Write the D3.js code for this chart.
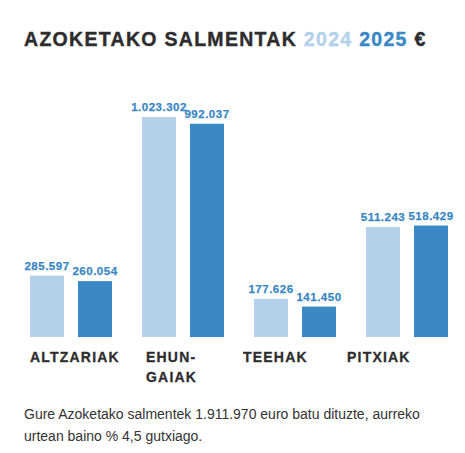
<!DOCTYPE html>
<html>
<head>
    <script src="https://d3js.org/d3.v7.min.js"></script>
</head>

<style>
body {
    margin: 0;
    background: #ffffff;
    font-family: "Liberation Sans", Arial, sans-serif;
}
</style>

<body>
<div id="chart"></div>

<script>
    // Data
    var categories = [["ALTZARIAK"], ["EHUN-", "GAIAK"], ["TEEHAK"], ["PITXIAK"]];
    var years = ["2024", "2025"];
    var sales2024 = [285597, 1023302, 177626, 511243];
    var sales2025 = [260054, 992037, 141450, 518429];
    var footer = ["Gure Azoketako salmentek 1.911.970 euro batu dituzte, aurreko",
                  "urtean baino % 4,5 gutxiago."];

    var colors = {"2024": "#b3d2e9", "2025": "#3a89c5"};
    var width = 465, height = 453;
    var baseline = 337;
    // the category names sit in their own columns, not exactly under the bars
    var labelX = [30, 146, 243, 347];

    // Basque number format: dots as thousand separators
    var eu = d3.formatLocale({decimal: ",", thousands: ".", grouping: [3], currency: ["", " €"]});
    var fmt = eu.format(",d");

    var rows = categories.map(function(c, i) {
        return {key: c.join(""), lines: c, values: [
            {year: "2024", value: sales2024[i]},
            {year: "2025", value: sales2025[i]}
        ]};
    });

    var svg = d3.select("#chart").append("svg")
        .attr("width", width)
        .attr("height", height);

    // Title with coloured years (heavy, slightly spaced like the original)
    var title = svg.append("text")
        .attr("x", 24)
        .attr("y", 46)
        .attr("font-size", "19.5px")
        .attr("font-weight", "bold")
        .attr("letter-spacing", "1.3px")
        .attr("stroke-width", 0.4)
        .attr("fill", "#2d2d2d")
        .attr("stroke", "#2d2d2d");
    title.append("tspan").text("AZOKETAKO SALMENTAK ");
    title.append("tspan").attr("fill", colors["2024"]).attr("stroke", colors["2024"]).text("2024 ");
    title.append("tspan").attr("fill", colors["2025"]).attr("stroke", colors["2025"]).text("2025 ");
    title.append("tspan").text("€");

    // Scales
    var x0 = d3.scaleBand()
        .domain(rows.map(d => d.key))
        .range([30, 448])
        .paddingInner(30 / 112);
    var x1 = d3.scaleBand()
        .domain(years)
        .range([0, x0.bandwidth()])
        .paddingInner(14 / 48);
    var y = d3.scaleLinear()
        .domain([0, d3.max(sales2024.concat(sales2025))])
        .range([baseline, 117]);

    var group = svg.selectAll("g.group")
        .data(rows)
        .enter().append("g")
        .attr("class", "group")
        .attr("transform", d => "translate(" + x0(d.key) + ",0)");

    group.selectAll("rect")
        .data(d => d.values)
        .enter().append("rect")
        .attr("x", d => x1(d.year))
        .attr("y", d => y(d.value))
        .attr("width", x1.bandwidth())
        .attr("height", d => baseline - y(d.value))
        .attr("fill", d => colors[d.year]);

    // Value labels above the bars
    group.selectAll("text.value")
        .data(d => d.values)
        .enter().append("text")
        .attr("class", "value")
        .attr("x", d => x1(d.year) + x1.bandwidth() / 2)
        .attr("y", d => y(d.value) - 6)
        .attr("text-anchor", "middle")
        .attr("font-size", "11.5px")
        .attr("font-weight", "bold")
        .attr("letter-spacing", "0.5px")
        .attr("stroke", "#3a87c4")
        .attr("stroke-width", 0.25)
        .attr("fill", "#3a87c4")
        .text(d => fmt(d.value));

    // Category labels under the bars
    var catLabel = svg.selectAll("text.cat")
        .data(rows)
        .enter().append("text")
        .attr("class", "cat")
        .attr("y", 362)
        .attr("font-size", "14px")
        .attr("font-weight", "bold")
        .attr("letter-spacing", "1.2px")
        .attr("stroke", "#2d2d2d")
        .attr("stroke-width", 0.3)
        .attr("fill", "#2d2d2d");
    catLabel.selectAll("tspan")
        .data((d, i) => d.lines.map(l => ({text: l, x: labelX[i]})))
        .enter().append("tspan")
        .attr("x", d => d.x)
        .attr("dy", (d, i) => i === 0 ? 0 : 20)
        .text(d => d.text);

    // Footer note
    var note = svg.append("text")
        .attr("x", 24)
        .attr("y", 419)
        .attr("font-size", "14px")
        .attr("fill", "#333333");
    note.selectAll("tspan")
        .data(footer)
        .enter().append("tspan")
        .attr("x", 24)
        .attr("dy", (d, i) => i === 0 ? 0 : 22)
        .text(d => d);
</script>
</body>
</html>
